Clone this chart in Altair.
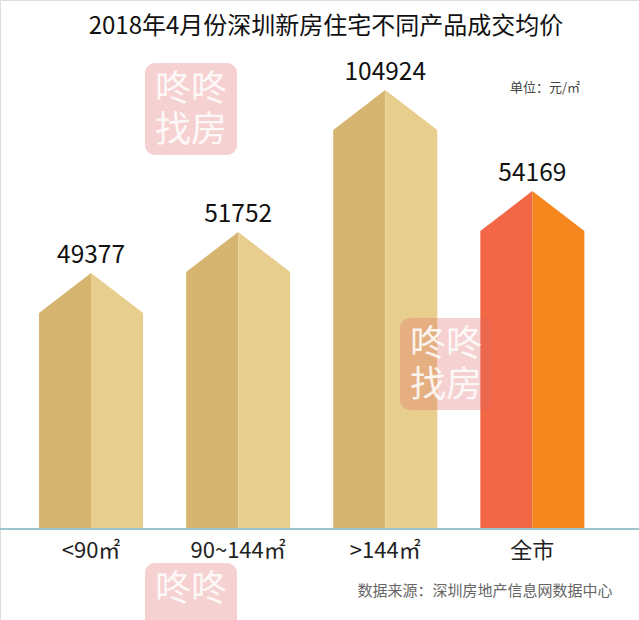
import altair as alt
import pandas as pd

# ---- data ----
categories = ["<90㎡", "90~144㎡", ">144㎡", "全市"]
prices = [49377, 51752, 104924, 54169]
# drawn height of each house-shaped bar (roof tip), in the picture's own (non-proportional) units
drawn_peak = [64000, 74250, 109750, 84500]
roof = 10000
left_colors = ["#D5B56F", "#D5B56F", "#D5B56F", "#F26745"]
right_colors = ["#E7CE8F", "#E7CE8F", "#E7CE8F", "#F6871F"]

title_text = "2018年4月份深圳新房住宅不同产品成交均价"
unit_text = "单位：元/㎡"
source_text = "数据来源：深圳房地产信息网数据中心"

FONT = "Noto Sans CJK SC"
W, H = 639, 620
hw = 0.3536

rows = []
for i, (cat, pk) in enumerate(zip(categories, drawn_peak)):
    sh = pk - roof
    rows += [
        {"seg": f"{i}L", "x": i - hw, "y": sh, "fill": left_colors[i]},
        {"seg": f"{i}L", "x": i, "y": pk, "fill": left_colors[i]},
        {"seg": f"{i}R", "x": i, "y": pk, "fill": right_colors[i]},
        {"seg": f"{i}R", "x": i + hw, "y": sh, "fill": right_colors[i]},
    ]
shapes = pd.DataFrame(rows)
labels = pd.DataFrame({"x": list(range(len(categories))), "cat": categories,
                       "price": prices, "peak": drawn_peak})

xs = alt.Scale(domain=[-0.619, 3.725], nice=False, zero=False)
ys = alt.Scale(domain=[-22750, 132250], nice=False, zero=False)
X = lambda f: alt.X(f, scale=xs, axis=None)
Y = lambda f: alt.Y(f, scale=ys, axis=None, stack=None)

houses = alt.Chart(shapes).mark_area(opacity=1, interpolate="linear").encode(
    x=X("x:Q"), y=Y("y:Q"), y2=alt.datum(0),
    color=alt.Color("fill:N", scale=None), detail="seg:N",
)

base_line = alt.Chart(labels).mark_rule(color="#9DC3CB", strokeWidth=2).encode(
    x=alt.value(0), x2=alt.value(W), y=alt.Y("datum_zero:Q", scale=ys, axis=None)
).transform_calculate(datum_zero="0")

value_text = alt.Chart(labels).mark_text(
    font=FONT, fontSize=24.5, color="#111", baseline="middle", dy=-17
).encode(x=X("x:Q"), y=Y("peak:Q"), text="price:Q")

cat_text = alt.Chart(labels).mark_text(
    font=FONT, fontSize=22, color="#222", baseline="middle"
).encode(x=X("x:Q"), y=alt.value(551), text="cat:N")

one = pd.DataFrame({"t": [0]})

def txt(s, x, y, size, color, opacity=1.0):
    return alt.Chart(one).mark_text(
        text=s, font=FONT, fontSize=size, color=color, align="center",
        baseline="middle", opacity=opacity
    ).encode(x=alt.value(x), y=alt.value(y))

title = txt(title_text, 326, 27, 24, "#111")
unit = txt(unit_text, 545, 88, 13, "#444")
source = txt(source_text, 485, 591, 15, "#666")

marks = []
for (wx, wy) in [(145, 63), (400, 318), (145, 563)]:
    marks.append(alt.Chart(one).mark_rect(
        color="#E06666", opacity=0.3, cornerRadius=10
    ).encode(x=alt.value(wx), x2=alt.value(wx + 92), y=alt.value(wy), y2=alt.value(wy + 92)))
    marks.append(txt("咚咚", wx + 46, wy + 27, 36, "#FFFFFF", 0.85))
    if wy + 68 < H - 20:
        marks.append(txt("找房", wx + 46, wy + 68, 36, "#FFFFFF", 0.85))

chart = alt.layer(houses, base_line, value_text, cat_text, title, unit, source, *marks).properties(
    width=W, height=H, autosize=alt.AutoSizeParams(type="none"), padding=0
).configure_view(stroke=None).configure(background="#FFFFFF")

chart.save("out.html", embed_options={"renderer": "svg", "actions": False})
